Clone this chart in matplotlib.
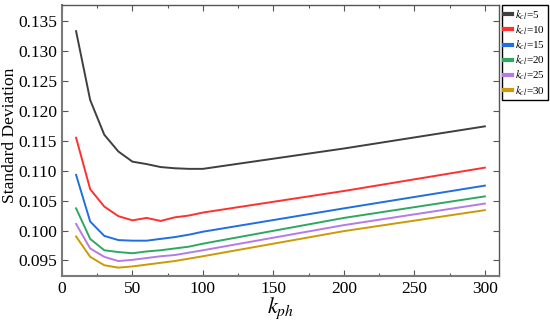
import matplotlib
matplotlib.use("Agg")
import matplotlib.pyplot as plt
from matplotlib.ticker import MultipleLocator, FormatStrFormatter

# k_ph sample points
k_ph = [10, 20, 30, 40, 50, 60, 70, 80, 90, 100, 200, 300]

# standard deviation per k_cl
sd_kcl5 = [0.1333, 0.1218, 0.1160, 0.1132, 0.1115, 0.1111, 0.1106, 0.1104, 0.1103, 0.1103, 0.1137, 0.1174]
sd_kcl10 = [0.1155, 0.1069, 0.1040, 0.1024, 0.1017, 0.1021, 0.1016, 0.1022, 0.1025, 0.1030, 0.1066, 0.1105]
sd_kcl15 = [0.1093, 0.1015, 0.0991, 0.0984, 0.0983, 0.0983, 0.0986, 0.0989, 0.0993, 0.0998, 0.1037, 0.1075]
sd_kcl20 = [0.1037, 0.0986, 0.0967, 0.0964, 0.0962, 0.0965, 0.0967, 0.0970, 0.0973, 0.0978, 0.1021, 0.1057]
sd_kcl25 = [0.1011, 0.0970, 0.0956, 0.0949, 0.0951, 0.0954, 0.0957, 0.0959, 0.0963, 0.0967, 0.1009, 0.1045]
sd_kcl30 = [0.0990, 0.0956, 0.0942, 0.0938, 0.0940, 0.0943, 0.0946, 0.0949, 0.0953, 0.0957, 0.0999, 0.1034]

series = [
    (sd_kcl5, r"$k_{cl}$=5", "#3f3f3f"),
    (sd_kcl10, r"$k_{cl}$=10", "#ff3030"),
    (sd_kcl15, r"$k_{cl}$=15", "#1f6fe0"),
    (sd_kcl20, r"$k_{cl}$=20", "#2fa85f"),
    (sd_kcl25, r"$k_{cl}$=25", "#b47be8"),
    (sd_kcl30, r"$k_{cl}$=30", "#cc9a06"),
]

plt.rcParams["font.family"] = ["Liberation Serif", "DejaVu Serif"]
plt.rcParams["mathtext.fontset"] = "stix"

fig = plt.figure(figsize=(5.5, 3.2), dpi=100)
ax = fig.add_axes([0.1127, 0.1375, 0.7945, 0.8455])

for vals, lab, col in series:
    ax.plot(k_ph, vals, color=col, lw=1.4, label=lab)

ax.set_xlim(0, 310)
ax.set_ylim(0.0924, 0.1376)
ax.xaxis.set_major_locator(MultipleLocator(50))
ax.xaxis.set_minor_locator(MultipleLocator(25))
ax.yaxis.set_major_locator(MultipleLocator(0.005))
ax.yaxis.set_major_formatter(FormatStrFormatter("%.3f"))

for side in ["left", "bottom"]:
    ax.spines[side].set_color("#7a7a7a")
    ax.spines[side].set_linewidth(1.5)
for side in ["top", "right"]:
    ax.spines[side].set_color("#555555")
    ax.spines[side].set_linewidth(1.0)

ax.tick_params(which="both", direction="in", top=True, right=True,
               color="#555555", labelsize=12.5)
ax.tick_params(which="major", length=4, width=0.8)
ax.tick_params(which="minor", length=2.5, width=0.8)

ax.set_ylabel("Standard Deviation", fontsize=12.5)
ax.yaxis.set_label_coords(-0.1, 0.52)
ax.set_xlabel(r"$k_{ph}$", fontsize=16)
ax.xaxis.set_label_coords(0.5, -0.072)

leg = ax.legend(loc="upper left", bbox_to_anchor=(1.006, 1.0), fontsize=8,
                handlelength=0.7, handletextpad=0.25, borderpad=0.25,
                labelspacing=0.15, borderaxespad=0, fancybox=False, framealpha=1)
leg.get_frame().set_edgecolor("black")
leg.get_frame().set_linewidth(1.0)
for line in leg.get_lines():
    line.set_linewidth(3)

fig.savefig("out.png", dpi=100)
